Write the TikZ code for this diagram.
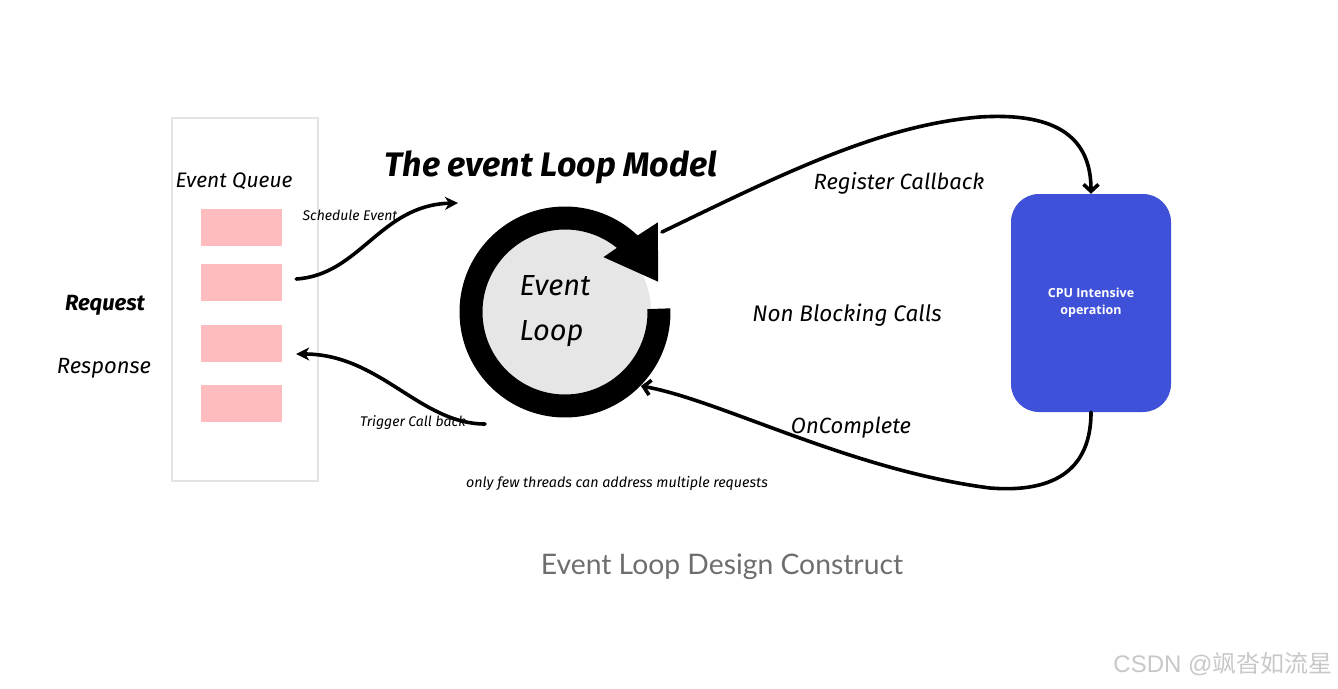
\documentclass[tikz,border=0pt]{standalone}
\usepackage{fontspec}
\usetikzlibrary{arrows.meta,calc}
\setmainfont{Fira Sans}
\newfontfamily\handfont{Fira Sans}
\newfontfamily\capfont{Lato}
\newfontfamily\cpufont{Open Sans}
\newfontfamily\wmfont{Liberation Sans}
\newfontfamily\cjk{Noto Sans CJK SC}
\definecolor{qpink}{RGB}{255,188,191}
\definecolor{loopgray}{RGB}{230,230,230}
\definecolor{cpublue}{RGB}{63,81,216}
\definecolor{capgray}{RGB}{110,110,110}
\definecolor{wmgray}{RGB}{200,200,200}
\definecolor{qborder}{RGB}{228,228,228}
\newcommand{\fs}[1]{\fontsize{#1}{#1}\selectfont}
\tikzset{
  barbtip/.tip={Straight Barb[length=7pt, width=15pt]},
  stltip/.tip={Stealth[length=13pt, width=13pt, inset=4pt]}}
\begin{document}
\begin{tikzpicture}[x=1pt,y=1pt,
  qitem/.style={fill=qpink, minimum width=81pt, minimum height=37pt, inner sep=0pt},
  hand/.style={font=\handfont\itshape, inner sep=0pt},
  conn/.style={line width=3.6pt, line cap=round}]
\useasboundingbox[fill=white] (0,0) rectangle (1338,-688);

% event queue
\node[draw=qborder, line width=1.2pt, minimum width=146pt, minimum height=363pt, inner sep=0pt] (queue) at (245,-299.5) {};
\node[qitem] (q1) at (241.5,-227.5) {};
\node[qitem] (q2) at (241.5,-282.5) {};
\node[qitem] (q3) at (241.5,-343.5) {};
\node[qitem] (q4) at (241.5,-403.5) {};
\node[hand] (eq) at (234,-181) {\fs{21}Event Queue};
\node[hand] (req) at (105,-305) {\fs{22}\bfseries Request};
\node[hand] (resp) at (104,-368) {\fs{22}Response};

% title
\node[hand] (title) at (551,-167) {\fs{34}\bfseries The event Loop Model};

% event loop
\coordinate (c) at (565,-312);
\node[circle, fill=loopgray, minimum size=172pt, inner sep=0pt] (loopbg) at (c) {};
\fill[black] ($(c)+(2:105.5)$) arc[start angle=2, end angle=-313.5, radius=105.5]
  -- ($(c)+(44:129)$) -- ($(c)+(18:98)$) -- ($(c)+(55:67)$) -- ($(c)+(51:82.5)$)
  arc[start angle=-309, end angle=2, radius=82.5] -- cycle;
\node[hand, align=left] (looptxt) at (555,-311) {\fs{29}Event\\[23pt]\fs{29}Loop};

% CPU box
\node[fill=cpublue, rounded corners=28pt, minimum width=160pt, minimum height=218pt,
  text=white, font=\cpufont\bfseries\fs{12.5}, align=center] (cpu) at (1091,-303)
  {CPU Intensive\\[4.5pt]operation};

% labels
\node[hand] (sched) at (350,-215) {\fs{14}Schedule Event};
\node[hand] (trig) at (413,-423) {\fs{14}Trigger Call back};
\node[hand] (reg) at (899,-183) {\fs{22}Register Callback};
\node[hand] (nbc) at (847,-315) {\fs{22.5}Non Blocking Calls};
\node[hand] (onc) at (851,-428) {\fs{22}OnComplete};
\node[hand] (few) at (617,-483) {\fs{14.3}only few threads can address multiple requests};
\node[font=\capfont, text=capgray, inner sep=0pt] (caption) at (722,-567) {\fs{28.3}Event Loop Design Construct};
\node[text=wmgray, inner sep=0pt] (wm) at (1223,-664) {\wmfont\fs{24}CSDN @{\cjk 飒沓如流星}};

% connectors
\coordinate (s0) at ($(q2.east)+(14,3.5)$);
\coordinate (s1) at (458,-203);
\draw[conn, -{stltip}] (s0) .. controls (360,-275) and (380,-205) .. (s1);
\coordinate (t0) at (485,-424);
\coordinate (t1) at ($(q3.east)+(14,-10.5)$);
\draw[conn, -{stltip}] (t0) .. controls (420,-424) and (380,-354) .. (t1);
\coordinate (r0) at (662,-232);
\draw[conn, -{barbtip}] (r0) .. controls (780,-175) and (880,-125) .. (980,-117)
  .. controls (1060,-112) and (1091,-140) .. (cpu.north);
\coordinate (o1) at (641,-386);
\draw[conn, {barbtip}-] (o1) .. controls (720,-400) and (850,-470) .. (990,-488)
  .. controls (1040,-492) and (1091,-480) .. (cpu.south);
\end{tikzpicture}
\end{document}
